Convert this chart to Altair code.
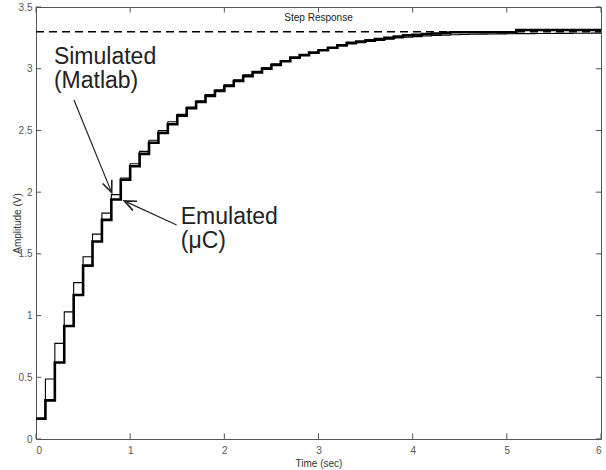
import altair as alt
import pandas as pd

FONT = "Liberation Sans"

times = [0.0, 0.1, 0.2, 0.3, 0.4, 0.5, 0.6, 0.7, 0.8, 0.9,
         1.0, 1.1, 1.2, 1.3, 1.4, 1.5, 1.6, 1.7, 1.8, 1.9,
         2.0, 2.1, 2.2, 2.3, 2.4, 2.5, 2.6, 2.7, 2.8, 2.9,
         3.0, 3.1, 3.2, 3.3, 3.4, 3.5, 3.6, 3.7, 3.8, 3.9,
         4.0, 4.1, 4.2, 4.3, 4.4, 4.5, 4.6, 4.7, 4.8, 4.9,
         5.0, 5.1, 5.2, 5.3, 5.4, 5.5, 5.6, 5.7, 5.8, 5.9, 6.0]

simulated = [0.165, 0.486, 0.775, 1.03, 1.267, 1.477, 1.66, 1.83, 1.98, 2.115,
             2.23, 2.33, 2.42, 2.50, 2.57, 2.63, 2.69, 2.74, 2.79, 2.83,
             2.87, 2.91, 2.95, 2.98, 3.01, 3.04, 3.06, 3.09, 3.11, 3.13,
             3.15, 3.17, 3.185, 3.20, 3.21, 3.22, 3.23, 3.24, 3.25, 3.255,
             3.26, 3.265, 3.27, 3.272, 3.275, 3.277, 3.279, 3.28, 3.281, 3.282,
             3.283, 3.284, 3.284, 3.285, 3.285, 3.286, 3.286, 3.287, 3.287, 3.288, 3.288]

emulated = [0.165, 0.313, 0.62, 0.915, 1.167, 1.405, 1.60, 1.775, 1.94, 2.10,
            2.21, 2.31, 2.40, 2.48, 2.55, 2.62, 2.68, 2.73, 2.78, 2.82,
            2.86, 2.90, 2.94, 2.97, 3.00, 3.03, 3.06, 3.09, 3.11, 3.13,
            3.15, 3.17, 3.19, 3.21, 3.22, 3.23, 3.24, 3.25, 3.26, 3.27,
            3.275, 3.28, 3.285, 3.29, 3.296, 3.296, 3.296, 3.296, 3.296, 3.296,
            3.296, 3.314, 3.314, 3.314, 3.314, 3.314, 3.314, 3.314, 3.314, 3.314, 3.314]

steady_state = 3.3
x_ticks = [0, 1, 2, 3, 4, 5, 6]
y_ticks = [0, 0.5, 1, 1.5, 2, 2.5, 3, 3.5]

df = pd.DataFrame({"t": times, "sim": simulated, "emu": emulated})
xt = pd.DataFrame({"v": x_ticks})
yt = pd.DataFrame({"v": y_ticks})

X = alt.Scale(domain=[0, 6], nice=False, zero=False)
Y = alt.Scale(domain=[0, 3.5], nice=False, zero=False)
AX = "#555555"

xaxis = alt.Axis(values=x_ticks, format="d", ticks=False, domain=False, grid=False,
                 labelFont=FONT, labelFontSize=10, labelColor=AX, labelPadding=6,
                 title="Time (sec)", titleFont=FONT, titleFontSize=10, titleFontWeight="normal",
                 titleColor="#333333", titleBaseline="middle", titleY=24)
yaxis = alt.Axis(values=y_ticks, format="~g", ticks=False, domain=False, grid=False,
                 labelFont=FONT, labelFontSize=10, labelColor=AX, labelPadding=4,
                 title="Amplitude (V)", titleFont=FONT, titleFontSize=10, titleFontWeight="normal",
                 titleColor="#333333", titleBaseline="middle", titleX=-19, titleAngle=-90)

base = alt.Chart(df)

sim_line = base.mark_line(interpolate="step-after", color="black", strokeWidth=1.1,
                          strokeJoin="miter").encode(
    x=alt.X("t:Q", scale=X, axis=xaxis),
    y=alt.Y("sim:Q", scale=Y, axis=yaxis))

emu_line = base.mark_line(interpolate="step-after", color="black", strokeWidth=2.6,
                          strokeJoin="miter").encode(
    x=alt.X("t:Q", scale=X), y=alt.Y("emu:Q", scale=Y))

dashed = alt.Chart(pd.DataFrame({"y": [steady_state]})).mark_rule(
    color="black", strokeWidth=1.6, strokeDash=[8, 5]).encode(
    x=alt.datum(0, scale=X), x2=alt.datum(6), y=alt.Y("y:Q", scale=Y))

tick_style = dict(color=AX, strokeWidth=1)
t_bottom = alt.Chart(xt).mark_rule(**tick_style).encode(
    x=alt.X("v:Q", scale=X), y=alt.datum(0, scale=Y), y2=alt.datum(0.045))
t_top = alt.Chart(xt).mark_rule(**tick_style).encode(
    x=alt.X("v:Q", scale=X), y=alt.datum(3.5, scale=Y), y2=alt.datum(3.455))
t_left = alt.Chart(yt).mark_rule(**tick_style).encode(
    y=alt.Y("v:Q", scale=Y), x=alt.datum(0, scale=X), x2=alt.datum(0.055))
t_right = alt.Chart(yt).mark_rule(**tick_style).encode(
    y=alt.Y("v:Q", scale=Y), x=alt.datum(6, scale=X), x2=alt.datum(5.945))

title_txt = alt.Chart(pd.DataFrame({"s": ["Step Response"]})).mark_text(
    font=FONT, fontSize=10, color="#222222", align="center", baseline="alphabetic").encode(
    x=alt.datum(3, scale=X), y=alt.datum(3.383, scale=Y), text="s:N")

def label(s, x, y):
    return alt.Chart(pd.DataFrame({"s": [s]})).mark_text(
        font=FONT, fontSize=23, color="#222222", align="left", baseline="alphabetic").encode(
        x=alt.datum(x, scale=X), y=alt.datum(y, scale=Y), text="s:N")

labels = [label("Simulated", 0.19, 3.039), label("(Matlab)", 0.19, 2.842),
          label("Emulated", 1.537, 1.738), label("(\u03bcC)", 1.537, 1.548)]

arrows = pd.DataFrame({"x": [0.403, 0.804, 1.494, 0.937],
                       "y": [2.747, 1.996, 1.734, 1.929],
                       "g": ["a", "a", "b", "b"]})
arrow_lines = alt.Chart(arrows).mark_line(color="#222222", strokeWidth=1.2).encode(
    x=alt.X("x:Q", scale=X), y=alt.Y("y:Q", scale=Y), detail="g:N")

heads = pd.DataFrame({"x": [0.804, 0.937], "y": [1.996, 1.929], "ang": [67.9, 204.6]})
arrow_heads = alt.Chart(heads).mark_point(
    shape="M -1 -0.42 L 0 0 L -1 0.42", filled=False, color="#222222",
    strokeWidth=1.6, size=560, opacity=1).encode(
    x=alt.X("x:Q", scale=X), y=alt.Y("y:Q", scale=Y), angle=alt.Angle("ang:Q", scale=None))

chart = alt.layer(sim_line, emu_line, dashed, t_bottom, t_top, t_left, t_right,
                  title_txt, *labels, arrow_lines, arrow_heads).properties(
    width=565, height=432,
    autosize=alt.AutoSizeParams(type="none"),
    padding={"left": 36, "top": 7, "right": 5, "bottom": 31},
    background="white",
).configure_view(stroke=AX, strokeWidth=1)

chart.save("out.html", embed_options={"renderer": "svg", "actions": False})
